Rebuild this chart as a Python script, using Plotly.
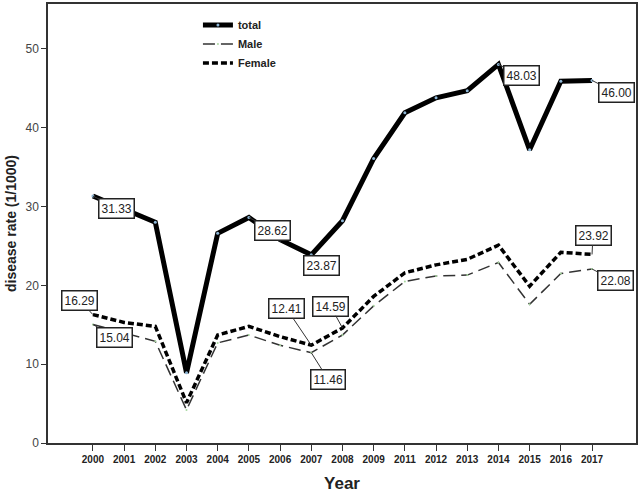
import plotly.graph_objects as go

# years on the x axis (2010 missing in the source)
years = ["2000", "2001", "2002", "2003", "2004", "2005", "2006", "2007", "2008",
         "2009", "2011", "2012", "2013", "2014", "2015", "2016", "2017"]

total = [31.33, 29.6, 28.0, 8.9, 26.6, 28.62, 25.8, 23.87, 28.2,
         36.1, 41.9, 43.8, 44.7, 48.03, 37.2, 45.9, 46.00]
male = [15.04, 14.0, 12.9, 4.2, 12.7, 13.7, 12.4, 11.46, 13.7,
        17.4, 20.5, 21.2, 21.3, 22.9, 17.6, 21.5, 22.08]
female = [16.29, 15.3, 14.8, 5.1, 13.7, 14.8, 13.5, 12.41, 14.59,
          18.6, 21.6, 22.6, 23.3, 25.1, 19.9, 24.2, 23.92]

# labelled points: (series values, year, pixel offset of the box)
labels = [
    (total, "2000", 24, 12), (total, "2005", 24, 13), (total, "2007", 10, 11),
    (total, "2014", 23, 11), (total, "2017", 24, 12),
    (female, "2000", -13, -14), (female, "2007", -25, -37), (female, "2008", -12, -22),
    (female, "2017", 1, -19),
    (male, "2000", 22, 13), (male, "2007", 17, 27), (male, "2017", 23, 12),
]

font = "Liberation Sans, Arial, sans-serif"

fig = go.Figure()
fig.add_trace(go.Scatter(
    x=years, y=total, name="<b>total</b>", mode="lines+markers",
    line=dict(color="black", width=5),
    marker=dict(size=3, color="#8fb8d8")))
fig.add_trace(go.Scatter(
    x=years, y=male, name="<b>Male</b>", mode="lines+markers",
    line=dict(color="#333333", width=1.5, dash="12px,6px"),
    marker=dict(size=2, color="#a8d8a0")))
fig.add_trace(go.Scatter(
    x=years, y=female, name="<b>Female</b>", mode="lines",
    line=dict(color="black", width=3.5, dash="6px,3px")))

for series, yr, ax, ay in labels:
    i = years.index(yr)
    val = series[i]
    # category axis: place by index so "2000" is not read as a number
    fig.add_annotation(
        x=i, y=val, text="%.2f" % val, showarrow=True, arrowhead=0,
        arrowwidth=1, arrowcolor="#333333", ax=ax, ay=ay,
        bordercolor="#222222", borderwidth=1.5, borderpad=2, bgcolor="white",
        font=dict(family=font, size=12, color="#222222"))

fig.update_layout(
    width=640, height=493,
    margin=dict(l=48, r=3, t=2, b=49),
    paper_bgcolor="white", plot_bgcolor="white",
    font=dict(family=font, color="#222222"),
    showlegend=True,
    legend=dict(x=0.255, y=0.985, xanchor="left", yanchor="top",
                bgcolor="rgba(0,0,0,0)", font=dict(size=11),
                tracegroupgap=0, itemwidth=30),
    xaxis=dict(
        type="category", range=[-1.44, 17.41],
        showline=True, mirror=True, linecolor="#333333", linewidth=1.5,
        ticks="outside", ticklen=6, tickcolor="#333333", showgrid=False,
        tickfont=dict(size=10, weight="bold"),
        title=dict(text="<b>Year</b>", font=dict(size=17), standoff=14)),
    yaxis=dict(
        range=[0, 55.7], dtick=10,
        showline=True, mirror=True, linecolor="#333333", linewidth=1.5,
        ticks="outside", ticklen=5, tickcolor="#333333", showgrid=False,
        zeroline=False, tickfont=dict(size=12, color="#444444"),
        title=dict(text="<b>disease rate (1/1000)</b>", font=dict(size=14), standoff=6)),
)

# page has a default body margin; drop it so the figure fills the window
fig.write_html("out.html", config={"displayModeBar": False},
               post_script="document.body.style.margin='0';")
